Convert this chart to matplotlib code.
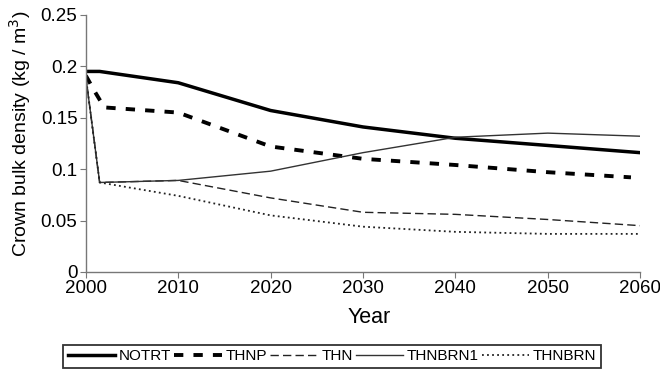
import matplotlib.pyplot as plt
import matplotlib as mpl

mpl.rcParams['font.family'] = ['Liberation Sans', 'DejaVu Sans']

years = [2000, 2001.5, 2010, 2020, 2030, 2040, 2050, 2060]
thnp_years = [2000, 2001, 2002, 2010, 2020, 2030, 2040, 2050, 2059]

notrt = [0.195, 0.195, 0.184, 0.157, 0.141, 0.130, 0.123, 0.116]
thnp = [0.191, 0.175, 0.160, 0.155, 0.122, 0.110, 0.104, 0.097, 0.092]
thn = [0.190, 0.087, 0.089, 0.072, 0.058, 0.056, 0.051, 0.045]
thnbrn1 = [0.190, 0.087, 0.089, 0.098, 0.116, 0.131, 0.135, 0.132]
thnbrn = [0.190, 0.087, 0.074, 0.055, 0.044, 0.039, 0.037, 0.037]

xticks = [2000, 2010, 2020, 2030, 2040, 2050, 2060]
yticks = [0, 0.05, 0.1, 0.15, 0.2, 0.25]
ytick_labels = ['0', '0.05', '0.1', '0.15', '0.2', '0.25']

fig = plt.figure(figsize=(6.6, 3.72), dpi=100)
ax = fig.add_axes([0.130, 0.269, 0.840, 0.691])

ax.plot(years, notrt, color='black', lw=2.5, label='NOTRT')
ax.plot(thnp_years, thnp, color='black', lw=2.8, dashes=(2.4, 2.6), label='THNP')
ax.plot(years, thn, color='#222222', lw=1.0, dashes=(6, 3), label='THN')
ax.plot(years, thnbrn1, color='#333333', lw=1.0, label='THNBRN1')
ax.plot(years, thnbrn, color='#222222', lw=1.3, dashes=(1, 1.8), label='THNBRN')

ax.set_xlim(2000, 2060)
ax.set_ylim(0, 0.25)
ax.set_xticks(xticks)
ax.set_xticklabels([str(t) for t in xticks], fontsize=13.5)
ax.set_yticks(yticks)
ax.set_yticklabels(ytick_labels, fontsize=13.5)
ax.tick_params(direction='out', length=4, color='#777777', pad=2)
for s in ['top', 'right']:
    ax.spines[s].set_visible(False)
for s in ['left', 'bottom']:
    ax.spines[s].set_color('#777777')
    ax.spines[s].set_linewidth(1.0)

ax.set_xlabel('Year', fontsize=15.5)
ax.xaxis.set_label_coords(0.511, -0.135)
ax.set_ylabel('Crown bulk density (kg / m$^3$)', fontsize=14)
ax.yaxis.set_label_coords(-0.0955, 0.537)

leg = fig.legend(loc='lower left', bbox_to_anchor=(0.0955, 0.011),
                 ncol=5, fontsize=11, frameon=True, fancybox=False,
                 handlelength=3.1, handletextpad=0.25, columnspacing=0.2,
                 borderpad=0.3, borderaxespad=0)
leg.get_frame().set_edgecolor('black')
leg.get_frame().set_linewidth(1.3)

fig.savefig('out.png', dpi=100)
